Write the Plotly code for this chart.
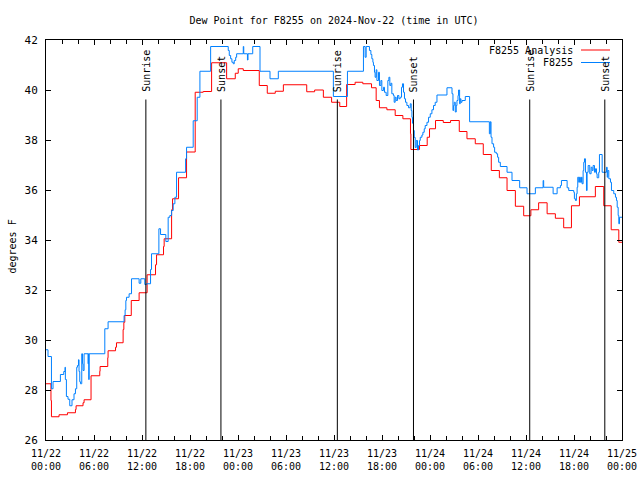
import plotly.graph_objects as go
import pandas as pd

# ---------------- data (hours since 2024-11-22 00:00 UTC) ----------------
start = "2024-11-22 00:00"

analysis_hours = [0, 0.62, 0.68, 1.63, 2.68, 3.68, 3.76, 4.63, 4.76, 5.63, 6.72, 6.76, 7.72, 7.76,
                  8.69, 8.81, 9.64, 9.73, 9.85, 10.66, 11.64, 12.64, 13.69, 13.82, 14.69, 14.77,
                  15.70, 15.82, 16.57, 17.57, 18.65, 19.65, 20.70, 22.58, 23.66, 24.03, 24.66,
                  26.66, 27.66, 28.66, 29.67, 32.59, 33.58, 34.67, 35.70, 36.72, 37.58, 38.64,
                  39.60, 40.69, 41.27, 41.68, 42.61, 43.65, 44.61, 45.56, 45.61, 46.69, 47.65,
                  47.94, 48.69, 49.66, 50.57, 51.66, 52.62, 53.66, 54.66, 55.66, 56.67, 57.63,
                  58.67, 59.71, 60.61, 61.58, 62.64, 63.67, 64.71, 65.68, 66.68, 68.67, 69.72,
                  70.65, 71.60, 72.0]
analysis_vals = [28.25, 27.58, 26.93, 27.01, 27.09, 27.22, 27.37, 27.49, 27.61, 28.57, 28.75, 28.94,
                 29.29, 29.57, 29.71, 29.89, 30.42, 30.71, 30.98, 31.58, 31.89, 32.61, 33.01, 33.41,
                 33.74, 34.05, 35.21, 35.65, 36.49, 37.52, 39.91, 39.94, 41.09, 40.45, 40.67, 40.85,
                 40.78, 40.18, 39.87, 39.95, 40.21, 39.93, 40.0, 39.71, 39.51, 39.34, 40.22, 40.31,
                 40.25, 40.09, 39.58, 39.29, 39.21, 38.98, 38.85, 38.25, 37.62, 37.78, 38.11, 38.45,
                 38.78, 38.70, 38.78, 38.34, 38.05, 37.85, 37.42, 36.78, 36.49, 35.98, 35.35, 34.97,
                 35.21, 35.49, 35.05, 34.87, 34.49, 35.37, 35.73, 36.14, 35.37, 34.41, 33.91, 33.91]

station_hours = [0, 0.25, 0.68, 0.88, 1.80, 2.22, 2.38, 2.42, 2.55, 2.75, 2.97, 3.25, 3.50, 3.68,
                 3.84, 3.93, 4.06, 4.13, 4.22, 4.31, 4.47, 4.56, 4.63, 4.76, 5.26, 5.30, 5.34, 5.40,
                 7.35, 7.76, 9.76, 9.89, 9.98, 10.06, 10.39, 10.69, 11.64, 11.85, 12.35, 12.57,
                 13.07, 13.19, 14.11, 14.32, 14.98, 15.27, 15.48, 15.70, 15.90, 16.11, 16.32,
                 17.45, 17.57, 18.40, 18.90, 19.24, 20.58, 22.78, 22.91, 23.08, 23.24, 23.41,
                 23.53, 23.71, 23.83, 24.66, 24.72, 25.18, 25.25, 25.84, 26.75, 28.00, 29.04,
                 35.92, 37.68, 39.68, 39.89, 40.02, 40.43, 40.61, 40.73, 40.86, 40.93, 41.06,
                 41.14, 41.27, 41.36, 41.56, 41.68, 41.86, 41.98, 42.18, 42.31, 42.52, 42.73,
                 42.86, 42.98, 43.11, 43.23, 43.43, 43.52, 43.65, 43.77, 43.94, 44.11, 44.27,
                 44.44, 44.56, 44.69, 44.81, 44.94, 45.11, 45.31, 45.53, 45.65, 45.74, 45.81,
                 45.94, 46.03, 46.15, 46.28, 46.44, 46.56, 46.69, 46.78, 46.99, 47.11, 47.28,
                 47.40, 47.62, 47.82, 48.03, 48.24, 48.44, 48.65, 48.87, 50.12, 50.75, 50.87,
                 50.95, 51.03, 51.16, 51.28, 51.37, 51.50, 51.57, 51.70, 51.78, 51.87, 52.00,
                 52.41, 52.95, 55.42, 55.54, 55.63, 55.75, 55.95, 56.08, 56.29, 56.45, 56.58,
                 56.79, 57.63, 58.25, 59.21, 60.13, 61.17, 62.14, 62.21, 63.39, 63.89, 64.30,
                 64.43, 65.14, 65.34, 65.97, 66.05, 66.18, 66.30, 66.39, 66.47, 66.59, 66.68,
                 66.80, 66.93, 67.01, 67.14, 67.22, 67.31, 67.43, 67.56, 67.64, 67.77, 67.97,
                 68.14, 68.27, 68.39, 68.56, 68.68, 68.81, 68.89, 69.09, 69.18, 69.52, 70.06,
                 70.15, 70.22, 70.35, 70.56, 70.68, 70.97, 71.18, 71.31, 71.40, 71.52, 71.60,
                 71.69, 72.0]
station_vals = [29.61, 29.34, 28.05, 28.34, 28.62, 28.74, 28.91, 28.42, 27.74, 27.63, 27.37, 27.61,
                27.85, 28.05, 28.91, 28.98, 29.21, 28.74, 28.33, 28.25, 29.45, 29.05, 28.78, 29.45,
                29.05, 29.45, 28.42, 29.45, 30.45, 30.73, 30.98, 31.21, 31.58, 31.71, 31.85, 32.45,
                32.27, 32.45, 32.22, 32.25, 32.82, 33.45, 34.45, 34.22, 33.94, 34.91, 34.98, 35.18,
                35.45, 35.71, 36.71, 37.25, 37.71, 38.77, 39.71, 40.75, 41.74, 41.58, 41.38, 41.25,
                41.11, 41.05, 41.18, 41.31, 41.45, 41.74, 41.45, 41.20, 41.45, 41.74, 40.75, 40.45,
                40.75, 39.74, 40.75, 41.74, 41.31, 41.74, 41.58, 41.42, 41.25, 41.11, 40.98, 40.71,
                40.51, 40.81, 40.38, 40.71, 40.18, 40.38, 39.98, 40.11, 39.91, 39.78, 40.38, 40.51,
                40.18, 40.27, 39.85, 39.78, 39.51, 39.71, 39.58, 39.78, 39.65, 39.71, 40.11, 40.25,
                39.91, 39.65, 39.51, 39.38, 39.29, 39.45, 39.18, 38.91, 38.67, 38.38, 38.10, 37.70,
                37.98, 37.60, 37.78, 37.98, 38.11, 38.20, 38.31, 38.45, 38.58, 38.71, 38.91, 39.05,
                39.21, 39.38, 39.51, 39.80, 40.09, 39.85, 39.18, 39.38, 39.51, 39.12, 39.38, 39.58,
                39.78, 40.00, 39.45, 39.65, 39.51, 39.58, 39.74, 38.73, 38.25, 38.73, 38.11, 37.85,
                37.71, 37.51, 37.45, 37.31, 37.11, 36.94, 36.71, 36.38, 36.09, 35.85, 36.09, 36.38,
                36.11, 35.85, 36.09, 36.18, 36.38, 36.09, 35.98, 35.91, 35.65, 35.58, 35.85, 36.11,
                36.51, 36.31, 36.51, 36.31, 36.51, 36.25, 36.78, 37.11, 37.25, 36.71, 35.98, 36.71,
                36.98, 36.65, 36.91, 36.78, 36.98, 36.71, 36.85, 36.65, 36.49, 36.71, 37.42, 36.71,
                36.91, 36.51, 36.78, 36.45, 36.31, 35.98, 35.85, 35.71, 35.58, 35.31, 34.98, 34.65,
                34.91, 34.91]

sunrise_times = ["2024-11-22 12:29", "2024-11-23 12:25", "2024-11-24 12:28"]
sunset_times = ["2024-11-22 21:52", "2024-11-23 21:56", "2024-11-24 21:51"]

series_names = ["F8255 Analysis", "F8255"]
series_colors = ["#ff0000", "#0080ff"]

title_text = "Dew Point for F8255 on 2024-Nov-22 (time in UTC)"
y_title = "degrees F"

# ---------------- figure ----------------
t0 = pd.Timestamp(start)


def to_time(hours):
    return [t0 + pd.Timedelta(hours=h) for h in hours]


FONT = "DejaVu Sans Mono"
W, H = 640, 480
ML, MR, MT, MB = 46, 18, 40, 40
PW, PH = W - ML - MR, H - MT - MB

fig = go.Figure()
for hrs, vals, name, col in [(analysis_hours, analysis_vals, series_names[0], series_colors[0]),
                             (station_hours, station_vals, series_names[1], series_colors[1])]:
    fig.add_trace(go.Scatter(x=to_time(hrs), y=vals, mode="lines", name=name,
                             line=dict(color=col, width=1, shape="hv"), showlegend=False,
                             hoverinfo="skip"))

shapes = []
annotations = []
for times, label in [(sunrise_times, "Sunrise"), (sunset_times, "Sunset")]:
    for t in times:
        shapes.append(dict(type="line", xref="x", yref="y", x0=t, x1=t, y0=26, y1=39.62,
                           line=dict(color="black", width=1)))
        annotations.append(dict(x=t, y=39.84, xref="x", yref="y", text=label, textangle=-90,
                                showarrow=False, xanchor="center", yanchor="bottom",
                                font=dict(family=FONT, size=10, color="black")))


def px_x(px):
    return (px - ML) / PW


def px_y(py):
    return (H - MB - py) / PH


legend_rows = [50, 62.5]
for name, col, ry in zip(series_names, series_colors, legend_rows):
    annotations.append(dict(x=px_x(575), y=px_y(ry), xref="paper", yref="paper", text=name,
                            showarrow=False, xanchor="right", yanchor="middle",
                            font=dict(family=FONT, size=10, color="black")))
    shapes.append(dict(type="line", xref="paper", yref="paper", x0=px_x(581), x1=px_x(610),
                       y0=px_y(ry), y1=px_y(ry), line=dict(color=col, width=1)))

annotations.append(dict(x=px_x(11.5), y=px_y(247), xref="paper", yref="paper", text=y_title,
                        textangle=-90, showarrow=False, xanchor="center", yanchor="middle",
                        font=dict(family=FONT, size=10, color="black")))

fig.update_layout(
    width=W, height=H,
    margin=dict(l=ML, r=MR, t=MT, b=MB, autoexpand=False),
    paper_bgcolor="white", plot_bgcolor="white",
    font=dict(family=FONT, size=10, color="black"),
    title=dict(text=title_text, x=0.5, xref="paper", y=1 - 20 / H, yref="container",
               xanchor="center", yanchor="middle", font=dict(family=FONT, size=10, color="black")),
    shapes=shapes, annotations=annotations, showlegend=False,
)

fig.update_xaxes(
    type="date", range=[t0, t0 + pd.Timedelta(hours=72)],
    tick0=t0, dtick=6 * 3600 * 1000, tickformat="%m/%d<br>%H:%M",
    ticks="inside", ticklen=5, tickcolor="black", tickwidth=1, ticklabelstandoff=4,
    minor=dict(dtick=2 * 3600 * 1000, ticks="inside", ticklen=4, tickcolor="black", tickwidth=1),
    showline=True, linecolor="black", linewidth=1, mirror="ticks",
    showgrid=False, zeroline=False, tickfont=dict(family=FONT, size=10, color="black"),
)
fig.update_yaxes(
    range=[26, 42], dtick=2, tick0=26,
    ticks="inside", ticklen=5, tickcolor="black", tickwidth=1, ticklabelstandoff=5,
    showline=True, linecolor="black", linewidth=1, mirror="ticks",
    showgrid=False, zeroline=False, tickfont=dict(family=FONT, size=11, color="black"),
)

fig.write_html("out.html")
